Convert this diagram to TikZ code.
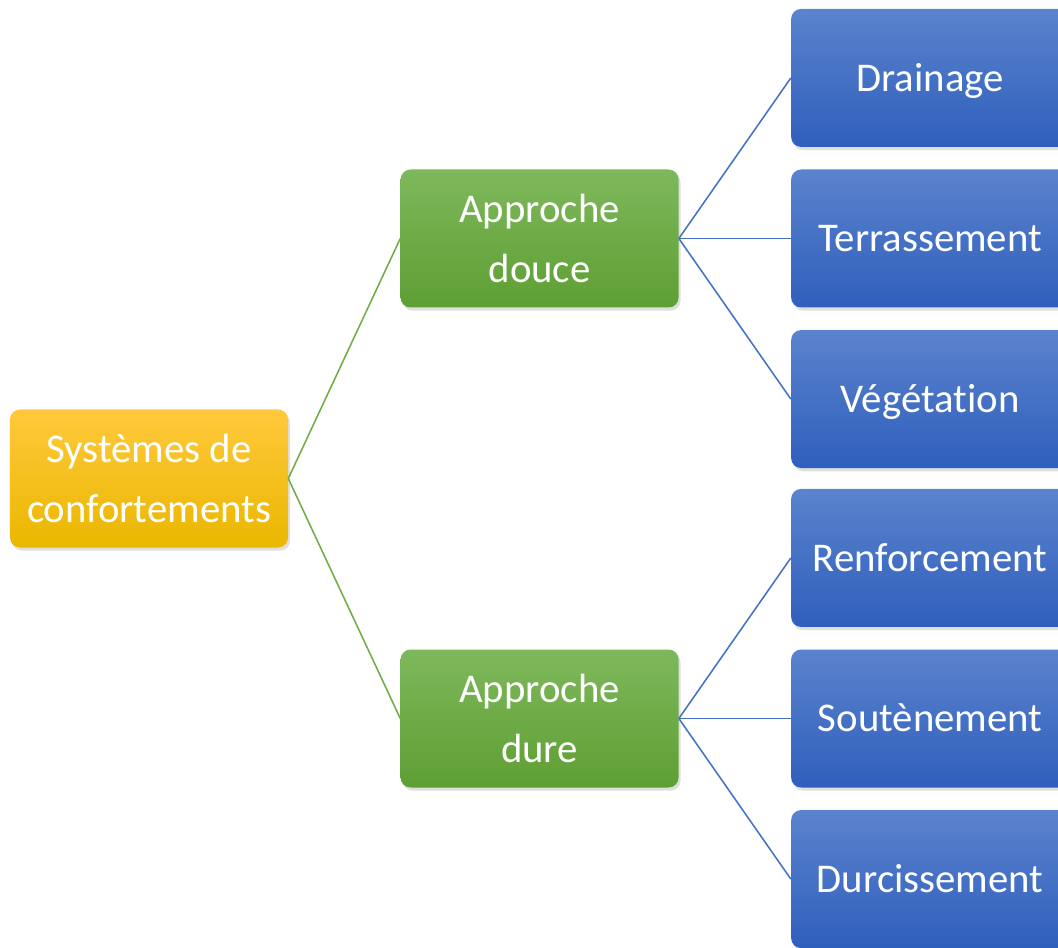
\documentclass[tikz,border=0pt]{standalone}
\usepackage{fontspec}
\setmainfont{Carlito}[Ligatures=NoCommon]
\usetikzlibrary{positioning, shadows}

\definecolor{rootTop}{HTML}{FFC93C}
\definecolor{rootBot}{HTML}{EAB700}
\definecolor{midTop}{HTML}{7EB85C}
\definecolor{midBot}{HTML}{5E9F33}
\definecolor{leafTop}{HTML}{5B83CD}
\definecolor{leafBot}{HTML}{2F5FBD}
\definecolor{greenLine}{HTML}{70AD47}
\definecolor{blueLine}{HTML}{4472C4}

\begin{document}
\begin{tikzpicture}[
      box/.style={rectangle, minimum width=6.95cm, minimum height=3.45cm, text centered, align=center,
        rounded corners=0.25cm, text=white, font=\fontsize{29}{43}\selectfont,
        drop shadow={opacity=0.25, shadow xshift=0.05cm, shadow yshift=-0.08cm}},
      rootbox/.style={box, top color=rootTop, bottom color=rootBot},
      midbox/.style={box, top color=midTop, bottom color=midBot},
      leafbox/.style={box, top color=leafTop, bottom color=leafBot, text height=0.667cm, text depth=0cm},
      greenlink/.style={draw=greenLine, line width=1.1pt},
      bluelink/.style={draw=blueLine, line width=1.1pt},
      node distance=0.55cm and 2.8cm
    ]

    \useasboundingbox (-3.725,-11.7125) rectangle (22.725,11.9625);

    \node[rootbox] (root) at (0,0) {Systèmes de \\ confortements};
    \node[midbox, right=of root, yshift=6cm] (douce) {Approche \\ douce};
    \node[midbox, right=of root, yshift=-6cm] (dure) {Approche \\ dure};

    % approche douce
    \node[leafbox, right=of douce] (terr) {Terrassement};
    \node[leafbox, above=of terr] (drain) {Drainage};
    \node[leafbox, below=of terr] (veg) {Végétation};

    % approche dure
    \node[leafbox, right=of dure] (sout) {Soutènement};
    \node[leafbox, above=of sout] (renf) {Renforcement};
    \node[leafbox, below=of sout] (durc) {Durcissement};

    \draw[greenlink] (root.east) -- (douce.west);
    \draw[greenlink] (root.east) -- (dure.west);
    \foreach \leaf in {drain, terr, veg}
      \draw[bluelink] (douce.east) -- (\leaf.west);
    \foreach \leaf in {renf, sout, durc}
      \draw[bluelink] (dure.east) -- (\leaf.west);

    \end{tikzpicture}
\end{document}
